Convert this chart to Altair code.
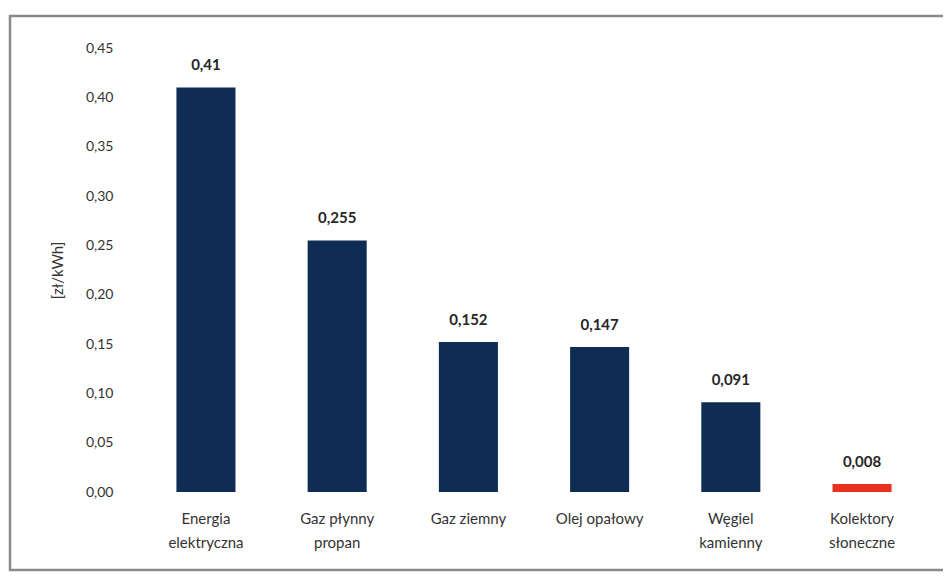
import altair as alt
import pandas as pd

categories = ["Energia\nelektryczna", "Gaz płynny\npropan", "Gaz ziemny", "Olej opałowy", "Węgiel\nkamienny", "Kolektory\nsłoneczne"]
values = [0.41, 0.255, 0.152, 0.147, 0.091, 0.008]
colors = ["#0f2d52", "#0f2d52", "#0f2d52", "#0f2d52", "#0f2d52", "#e8321e"]

df = pd.DataFrame({"cat": categories, "val": values, "col": colors})

FONT = "Lato"

x = alt.X("cat:N", sort=categories, title=None,
          scale=alt.Scale(paddingInner=0.55, paddingOuter=0.27),
          axis=alt.Axis(labelExpr="split(datum.label, '\\n')", labelAngle=0,
                        labelFontSize=15, labelColor="#333333", labelFont=FONT,
                        labelPadding=19, labelLineHeight=24, ticks=False,
                        domain=False, grid=False, labelBaseline="top"))
y = alt.Y("val:Q", title="[zł/kWh]",
          scale=alt.Scale(domain=[0, 0.45], nice=False),
          axis=alt.Axis(values=[i * 0.05 for i in range(10)],
                        labelExpr="replace(format(datum.value, '.2f'), '.', ',')",
                        labelFontSize=14, labelColor="#333333", labelFont=FONT,
                        labelPadding=28, ticks=False, domain=False, grid=False,
                        titleFontSize=15, titleFont=FONT, titleColor="#333333",
                        titleFontWeight="normal", titlePadding=20))

base = alt.Chart(df)

bars = base.mark_bar().encode(x=x, y=y, color=alt.Color("col:N", scale=None, legend=None))

labels = base.transform_calculate(
    lab="replace(toString(datum.val), '.', ',')"
).mark_text(fontWeight="bold", fontSize=15, font=FONT, color="#262626",
            baseline="middle", dy=-22).encode(x=x, y=y, text="lab:N")

frame = alt.Chart(pd.DataFrame({"a": [0]})).mark_rect(
    fill=None, stroke="#8a8a8a", strokeWidth=2.5
).encode(x=alt.value(-131), x2=alt.value(812), y=alt.value(-32), y2=alt.value(522))

chart = alt.layer(bars, labels, frame).properties(
    width=786, height=444,
    padding={"left": 133, "top": 40, "right": 16, "bottom": 80},
    autosize=alt.AutoSizeParams(type="none"),
).configure(background="white").configure_view(stroke=None)

chart.save("out.html", embed_options={"renderer": "svg", "actions": False})
